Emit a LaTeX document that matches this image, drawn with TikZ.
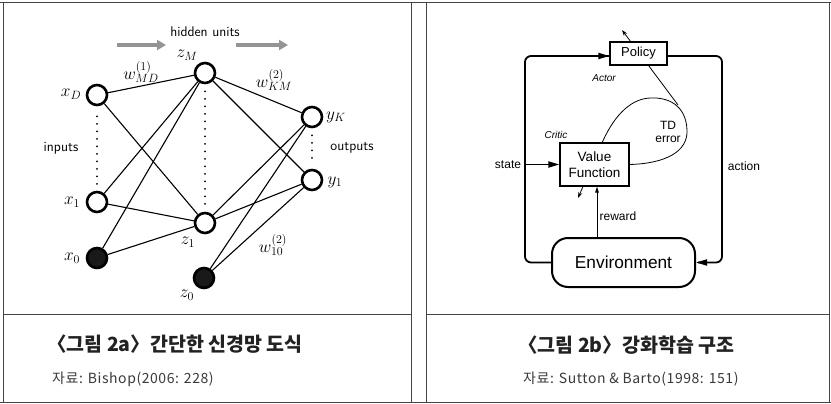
\documentclass[tikz,border=0pt]{standalone}
\usepackage{fontspec}
\newfontfamily\helv{Liberation Sans}
\newfontfamily\kr{Noto Sans CJK KR}
\newfontfamily\krs[LetterSpace=4]{Noto Sans CJK KR}
\usetikzlibrary{arrows.meta,calc}
\pgfdeclarelayer{background}
\pgfsetlayers{background,main}
\definecolor{framecol}{HTML}{444444}
\definecolor{captcol}{HTML}{222222}
\definecolor{srccol}{HTML}{3A3A3A}
\tikzset{
  unit/.style={circle,draw,line width=2.6pt,minimum size=20pt,inner sep=0pt,fill=white},
  bias/.style={circle,draw,line width=2.6pt,minimum size=20pt,inner sep=0pt,fill=black!90},
  link/.style={line width=1.1pt},
  dots/.style={line width=2pt,line cap=round,dash pattern=on 0pt off 7.5pt},
  mlab/.style={inner sep=0pt,font=\LARGE},
  slab/.style={inner sep=0pt,font=\fontsize{14}{16}\sffamily},
  grayarrow/.style={line width=4pt,draw=black!42,-{Triangle[length=9pt,width=10pt]}},
  rbox/.style={draw,line width=1.2pt,fill=white,inner sep=0pt},
  loopline/.style={line width=1.8pt,rounded corners=6pt},
  bigtip/.style={-{Triangle[length=11pt,width=6pt]}},
  rlab/.style={inner sep=0pt,font=\helv\fontsize{12}{13}\selectfont},
  ilab/.style={inner sep=0pt,font=\helv\itshape\fontsize{10}{12}\selectfont},
  caption/.style={anchor=west,inner sep=0pt,text=captcol,font=\kr\bfseries\fontsize{19.5}{21}\selectfont},
  source/.style={anchor=west,inner sep=0pt,text=srccol,font=\krs\fontsize{14}{16}\selectfont},
  framel/.style={draw=framecol,line width=1pt}
}
\begin{document}
\begin{tikzpicture}[x=1pt,y=-1pt]
\useasboundingbox (0,0) rectangle (831,404);
\begin{pgfonlayer}{background}
\fill[white] (0,0) rectangle (831,404);
\end{pgfonlayer}
% frame
\draw[framel] (0,3) -- (831,3);
\draw[framel] (0,402.5) -- (831,402.5);
\draw[framel] (3.5,3) -- (3.5,402.5);
\draw[framel] (411,3) -- (411,402.5);
\draw[framel] (426,3) -- (426,402.5);
\draw[framel] (829.5,3) -- (829.5,402.5);
\draw[framel] (3.5,314) -- (411,314);
\draw[framel] (426,314) -- (829.5,314);

% ---------- left: network ----------
\node[unit] (xD) at (97,95) {};
\node[unit] (x1) at (97,202) {};
\node[bias] (x0) at (97,258) {};
\node[unit] (zM) at (205,73) {};
\node[unit] (z1) at (205,223) {};
\node[bias] (z0) at (204,278) {};
\node[unit] (yK) at (312,117) {};
\node[unit] (y1) at (312,180) {};

\foreach \a/\b in {xD/zM,xD/z1,x1/zM,x1/z1,x0/zM,x0/z1,zM/yK,zM/y1,z1/yK,z1/y1,z0/yK,z0/y1}
  \draw[link] (\a) -- (\b);

\draw[dots] ($(xD.south)+(0,10)$) -- ($(x1.north)+(0,-5)$);
\draw[dots] ($(zM.south)+(0,7)$) -- ($(z1.north)+(0,-4)$);
\draw[dots] ($(yK.south)+(0,7)$) -- ($(y1.north)+(0,-4)$);

\node[mlab] (lxD) at (71,94) {$x_D$};
\node[mlab] (lx1) at (72,202) {$x_1$};
\node[mlab] (lx0) at (72,258) {$x_0$};
\node[mlab] (lzM) at (187,55) {$z_M$};
\node[mlab] (lz1) at (188,242) {$z_1$};
\node[mlab] (lz0) at (187,295) {$z_0$};
\node[mlab] (lyK) at (336,117) {$y_K$};
\node[mlab] (ly1) at (335,182) {$y_1$};
\node[mlab] (w1) at (141,72) {$w^{(1)}_{MD}$};
\node[mlab] (w2) at (274,80) {$w^{(2)}_{KM}$};
\node[mlab] (w3) at (273,245) {$w^{(2)}_{10}$};

\node[slab] (hid) at (205,32) {hidden units};
\node[slab] (inp) at (61,148) {inputs};
\node[slab] (outp) at (352,148) {outputs};

\coordinate (ga1) at (117,45);
\coordinate (ga2) at (166,45);
\coordinate (gb1) at (236,45);
\coordinate (gb2) at (288,45);
\draw[grayarrow] (ga1) -- (ga2);
\draw[grayarrow] (gb1) -- (gb2);

% ---------- right: actor-critic ----------
\node[rbox,minimum width=57pt,minimum height=23pt,font=\helv\fontsize{13}{14}\selectfont] (policy) at (638.5,53.5) {Policy};
\node[rbox,minimum width=69pt,minimum height=43pt,align=center,font=\helv\fontsize{13.5}{15.5}\selectfont] (vf) at (594.5,164.5) {Value\\Function};
\node[draw,line width=2pt,rounded corners=16pt,minimum width=143pt,minimum height=49pt,inner sep=0pt,fill=white,font=\helv\fontsize{17.3}{19}\selectfont] (env) at (623.5,262.5) {Environment};

\coordinate (tl) at (525,56);
\coordinate (tr) at (722,56);
\coordinate (br) at (722,262.5);
\coordinate (bl) at (525,262.5);
\coordinate (st) at (525,164.5);
\coordinate (rw) at (597,0);

\draw[loopline] (env.west) -- (bl) -- (tl) -- (tl -| policy.west);
\draw[bigtip,line width=1.8pt] ($(tl -| policy.west)+(-12,0)$) -- (tl -| policy.west);
\draw[loopline] (tr -| policy.east) -- (tr) -- (br) -- ($(env.east)+(2,0)$);
\draw[bigtip,line width=1.8pt] ($(env.east)+(12,0)$) -- (env.east);
\draw[bigtip,line width=1.8pt] (st) -- (vf.west);
\draw[line width=0.8pt,-{Triangle[length=6pt,width=3.5pt]}] (rw |- env.north) -- (rw |- vf.south);

\coordinate (c0) at (687,130);
\coordinate (c1) at (650,98);
\coordinate (c2) at (602,143);
\coordinate (c3) at (578,198);
\coordinate (p0) at (678,105);
\coordinate (p1) at (622,30);
\draw[line width=0.8pt] (vf.east) .. controls (665,163.5) and (688,152) .. (c0)
  .. controls (686,105) and (668,97) .. (c1)
  .. controls (628,99) and (612,120) .. (c2);
\begin{pgfonlayer}{background}
\draw[line width=0.8pt,-{Stealth[length=6pt,width=4pt]}] (c2) -- (c3);
\draw[line width=0.8pt,-{Stealth[length=6pt,width=4pt]}] (p0) -- (p1);
\end{pgfonlayer}

\node[ilab] (actor) at (604,78) {Actor};
\node[ilab] (critic) at (556,135) {Critic};
\node[rlab,align=center] (td) at (668,132) {TD\\error};
\node[rlab] (state) at (508,165) {state};
\node[rlab] (action) at (744,166) {action};
\node[rlab] (reward) at (618,216) {reward};

% ---------- captions ----------
\node[caption] (cap1) at (47,344) {〈그림 2a〉간단한 신경망 도식};
\node[source] (src1) at (52,379) {자료: Bishop(2006: 228)};
\node[caption] (cap2) at (518,345) {〈그림 2b〉강화학습 구조};
\node[source] (src2) at (523,379) {자료: Sutton \& Barto(1998: 151)};
\end{tikzpicture}
\end{document}
